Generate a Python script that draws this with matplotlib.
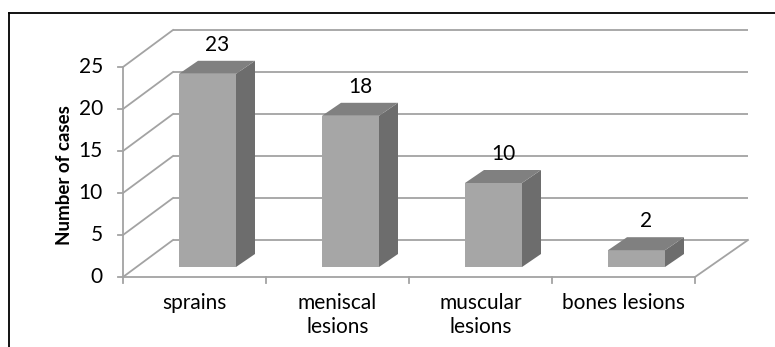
"""
3D-style bar chart: number of cases per lesion type
"""
import matplotlib
matplotlib.use('Agg')
import matplotlib.pyplot as plt
from matplotlib.patches import Polygon
from matplotlib.lines import Line2D

# data
categories = ['sprains', 'meniscal\nlesions', 'muscular\nlesions', 'bones lesions']
cases = [23, 18, 10, 2]
y_ticks = [0, 5, 10, 15, 20, 25]

plt.rcParams['font.family'] = ['Lato', 'DejaVu Sans']

W, H = 775, 347
fig = plt.figure(figsize=(W / 100, H / 100), dpi=100)
ax = fig.add_axes([0, 0, 1, 1])
ax.axis('off')

# pixel scale of the bar plane
PX_X = 143.0   # px per category
PX_Y = 8.4     # px per case
X0_PX, Y0_PX = 207.5, 267.0
ax.set_xlim(-X0_PX / PX_X, (W - X0_PX) / PX_X)
ax.set_ylim((Y0_PX - H) / PX_Y, Y0_PX / PX_Y)


def ox(px):
    return px / PX_X


def oy(px):
    return px / PX_Y


n = len(cases)
grid_c = '#a3a3a3'
grid_lw = 1.3
fs = 15

# depth offsets relative to the bar front plane (px right, px up)
front = (-13, -10)
back = (37, 27)
left = -0.5
right = n - 0.5

# back wall grid + left wall diagonals
for v in y_ticks:
    ax.plot([left + ox(back[0]), right + ox(back[0] + 3)],
            [v + oy(back[1]), v + oy(back[1])],
            color=grid_c, lw=grid_lw, zorder=1, solid_capstyle='butt')
    ax.plot([left + ox(front[0]), left + ox(back[0])],
            [v + oy(front[1]), v + oy(back[1])],
            color=grid_c, lw=grid_lw, zorder=1)
    # tick marks and labels on the front axis
    ax.plot([left + ox(front[0] - 5), left + ox(front[0])],
            [v + oy(front[1]), v + oy(front[1])], color=grid_c, lw=grid_lw, zorder=1)
    ax.text(left + ox(front[0] - 20), v + oy(front[1]), str(v),
            ha='right', va='center', fontsize=fs, color='black')

# front vertical axis
ax.plot([left + ox(front[0])] * 2, [oy(front[1]), max(y_ticks) + oy(front[1])],
        color=grid_c, lw=grid_lw, zorder=1)
# floor front edge and right edge
ax.plot([left + ox(front[0]), right + ox(front[0])], [oy(front[1])] * 2,
        color=grid_c, lw=grid_lw, zorder=1)
ax.plot([right + ox(front[0]), right + ox(back[0] + 3)],
        [oy(front[1]), oy(back[1])], color=grid_c, lw=grid_lw, zorder=1)
# category ticks
for b in range(n + 1):
    xb = b - 0.5 + ox(front[0])
    ax.plot([xb, xb], [oy(front[1]), oy(front[1] - 6)], color=grid_c, lw=grid_lw, zorder=1)

# bars
bar_w = 57 / PX_X
depth = (19, 13)
xs = list(range(n))
ax.bar(xs, cases, width=bar_w, color='#a6a6a6', zorder=3)
for x, v in zip(xs, cases):
    x0, x1 = x - bar_w / 2, x + bar_w / 2
    side = Polygon([(x1, 0), (x1 + ox(depth[0]), oy(depth[1])),
                    (x1 + ox(depth[0]), v + oy(depth[1])), (x1, v)],
                   closed=True, facecolor='#6d6d6d', edgecolor='none', zorder=3)
    top = Polygon([(x0, v), (x1, v), (x1 + ox(depth[0]), v + oy(depth[1])),
                   (x0 + ox(depth[0]), v + oy(depth[1]))],
                  closed=True, facecolor='#808080', edgecolor='none', zorder=3)
    ax.add_patch(side)
    ax.add_patch(top)
    ax.text(x + ox(depth[0] / 2), v + oy(29), str(v), ha='center', va='center',
            fontsize=fs, color='black', zorder=4)

# category labels
for x, lab in zip(xs, categories):
    ax.text(x + ox(front[0]), oy(Y0_PX - 293), lab, ha='center', va='top',
            fontsize=fs, linespacing=1.25, color='black')

# y label
ax.text((65 - X0_PX) / PX_X, (Y0_PX - 175) / PX_Y, 'Number of cases',
        rotation=90, ha='center', va='center', fontsize=13.5, fontweight='bold')

# outer frame (top and left only visible)
fig.add_artist(Line2D([9 / W, 1], [1 - 13 / H, 1 - 13 / H], color='black', lw=1.3))
fig.add_artist(Line2D([9 / W, 9 / W], [1 - 13 / H, 0], color='black', lw=1.3))

fig.savefig('out.png', dpi=100, facecolor='white')
